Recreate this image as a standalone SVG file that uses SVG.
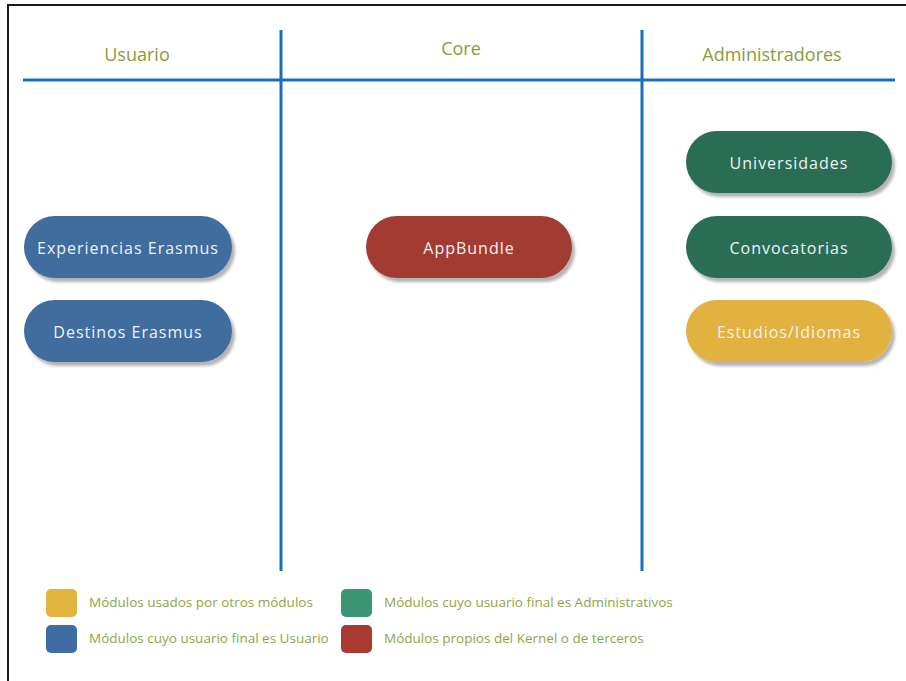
<svg xmlns="http://www.w3.org/2000/svg" width="906" height="681" viewBox="0 0 906 681">
<defs>
<filter id="sh" x="-10%" y="-20%" width="130%" height="150%">
<feGaussianBlur in="SourceAlpha" stdDeviation="1.5" result="b"/>
<feOffset dx="3" dy="4" result="o"/>
<feComponentTransfer in="o" result="c"><feFuncA type="linear" slope="0.3"/></feComponentTransfer>
<feMerge><feMergeNode in="c"/><feMergeNode in="SourceGraphic"/></feMerge>
</filter>
</defs>
<style>
.hdr{font-family:"Open Sans","Liberation Sans",sans-serif;font-size:18px;fill:#8b9b3b;text-anchor:middle}
.node text{font-family:"Open Sans","Liberation Sans",sans-serif;font-size:16px;fill:#f2f2f2;text-anchor:middle;letter-spacing:1px}
.lg{font-family:"Open Sans","Liberation Sans",sans-serif;font-size:13.5px;fill:#8fa447}
.ln{stroke:#1a6fbd;stroke-width:3;fill:none}
.blue{fill:#3f6c9e}.red{fill:#a23a31}.green{fill:#2b6d55}.yellow{fill:#e1b23f}
</style>
<rect width="906" height="681" fill="#fff"/>
<path d="M8 681 V5 H906" fill="none" stroke="#1a1a1a" stroke-width="2"/>
<g id="grid">
<line class="ln" x1="23" y1="80" x2="895" y2="80"/>
<line class="ln" x1="281" y1="30" x2="281" y2="571"/>
<line class="ln" x1="642" y1="30" x2="642" y2="571"/>
</g>
<text class="hdr" x="137" y="61">Usuario</text>
<text class="hdr" x="461" y="55">Core</text>
<text class="hdr" x="772" y="61">Administradores</text>
<g id="n-experiencias" class="node"><rect class="blue" x="24" y="216" width="208" height="62" rx="31" filter="url(#sh)"/><text x="128" y="254">Experiencias Erasmus</text></g>
<g id="n-destinos" class="node"><rect class="blue" x="24" y="300" width="208" height="62" rx="31" filter="url(#sh)"/><text x="128" y="338">Destinos Erasmus</text></g>
<g id="n-appbundle" class="node"><rect class="red" x="366" y="216" width="206" height="62" rx="31" filter="url(#sh)"/><text x="469" y="254">AppBundle</text></g>
<g id="n-universidades" class="node"><rect class="green" x="686" y="131" width="206" height="62" rx="31" filter="url(#sh)"/><text x="789" y="169">Universidades</text></g>
<g id="n-convocatorias" class="node"><rect class="green" x="686" y="216" width="206" height="62" rx="31" filter="url(#sh)"/><text x="789" y="254">Convocatorias</text></g>
<g id="n-estudios" class="node"><rect class="yellow" x="686" y="300" width="206" height="62" rx="31" filter="url(#sh)"/><text x="789" y="338">Estudios/Idiomas</text></g>
<g id="legend">
<rect x="46" y="589" width="31" height="28" rx="5" fill="#e2b33f"/>
<text class="lg" x="89" y="607">Módulos usados por otros módulos</text>
<rect x="46" y="625" width="31" height="28" rx="5" fill="#3f6ca3"/>
<text class="lg" x="89" y="643">Módulos cuyo usuario final es Usuario</text>
<rect x="341" y="589" width="31" height="28" rx="5" fill="#3a9673"/>
<text class="lg" x="384" y="607">Módulos cuyo usuario final es Administrativos</text>
<rect x="341" y="625" width="31" height="28" rx="5" fill="#a93a32"/>
<text class="lg" x="384" y="643">Módulos propios del Kernel o de terceros</text>
</g>
</svg>
